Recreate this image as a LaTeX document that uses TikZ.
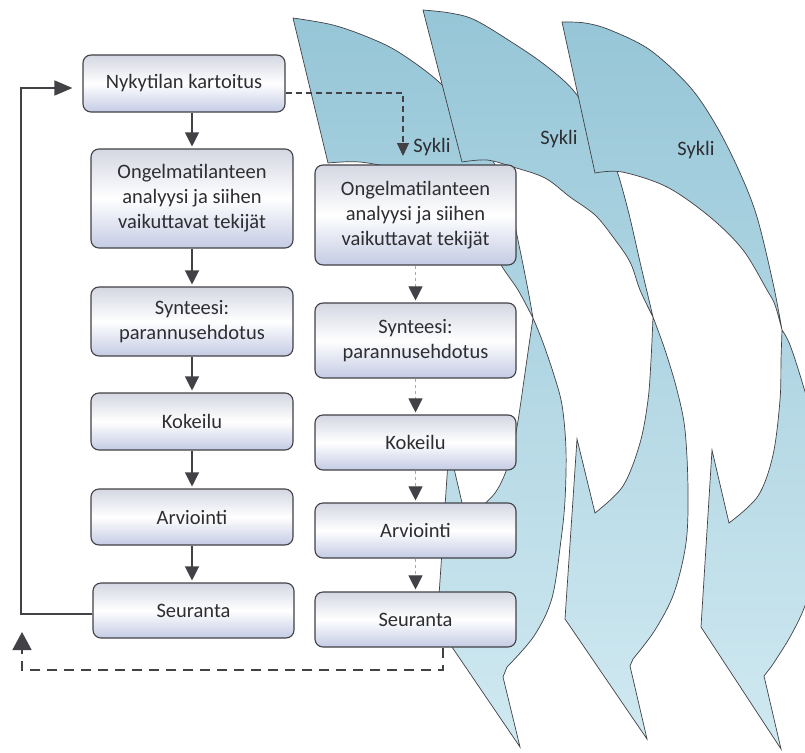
\documentclass[tikz,border=0pt]{standalone}
\usepackage{fontspec}
\setmainfont{Carlito}
\usetikzlibrary{arrows.meta}
\definecolor{boxT}{RGB}{212,215,226}
\definecolor{boxB}{RGB}{196,203,228}
\definecolor{lineC}{RGB}{65,65,70}
\definecolor{txtC}{RGB}{45,45,50}
\definecolor{swT}{RGB}{150,198,215}
\definecolor{swB}{RGB}{208,233,241}
\tikzset{
  procbox/.style={draw=lineC, line width=1.1pt, rounded corners=8pt,
    top color=boxT, bottom color=boxB, middle color=white,
    text=txtC, font=\fontsize{20.5}{25}\selectfont, align=center, inner sep=0pt},
  swoosh/.style={draw=lineC, line width=0.7pt, top color=swT, bottom color=swB},
  sm/.style={smooth,tension=0.55},
  solidarrow/.style={draw=lineC, line width=1.2pt, -{Triangle[length=14pt,width=14pt]}, shorten >=2pt},
  dasharrow/.style={draw=lineC!45, line width=0.8pt, dash pattern=on 3pt off 3pt, -{Triangle[length=14pt,width=14pt,color=lineC]}, shorten >=2pt},
  linkdash/.style={draw=lineC, line width=1.1pt, dash pattern=on 6pt off 4pt, -{Triangle[length=13pt,width=12pt]}},
  backdash/.style={draw=lineC, line width=1.6pt, dash pattern=on 10pt off 7pt, -{Triangle[length=18pt,width=19pt]}},
  backsolid/.style={draw=lineC, line width=1.4pt, -{Triangle[length=18pt,width=15pt]}, shorten >=10pt},
  syklilabel/.style={text=txtC, font=\fontsize{20.5}{24}\selectfont, inner sep=0pt},
}
\begin{document}
\begin{tikzpicture}[x=1pt,y=-1pt]
\useasboundingbox (0,0) rectangle (805,752);
\begin{scope}
\clip (0,0) rectangle (805,752);
\fill[white] (0,0) rectangle (805,752);
% cycle arrow 1
\path[swoosh]
  plot[sm] coordinates {(293,18) (333,25) (370,38) (400,53) (440,83) (470,120) (495,165) (510,205) (520,250) (528,290) (533,318)}
  -- plot[sm] coordinates {(533,318) (518,290) (500,263) (488,232) (468,205) (440,185) (400,170) (360,162) (328,163)}
  -- cycle
  plot[sm] coordinates {(533,318) (542,340) (553,372) (562,405) (566,450) (565,500) (561,540) (552,598) (534,636) (507,667)}
  -- (503,677) -- (520,747) -- (437,625) -- (449,447) -- (466,520)
  -- plot[sm] coordinates {(466,520) (495,493) (510,460) (517,427) (524,380) (529,345) (533,318)}
  -- cycle;
% cycle arrow 2
\path[swoosh]
  plot[sm] coordinates {(423,10) (450,13) (475,20) (513,43) (545,65) (573,90) (598,127) (615,165) (628,210) (640,262) (653,317)}
  -- plot[sm] coordinates {(653,317) (640,290) (630,262) (613,237) (595,215) (570,197) (545,178) (513,167) (487,160) (462,162)}
  -- cycle
  plot[sm] coordinates {(653,317) (665,350) (677,390) (685,430) (688,490) (686,543) (674,593) (655,630) (633,659)}
  -- (630,666) -- (647,739) -- (565,619) -- (577,439) -- (595,513)
  -- plot[sm] coordinates {(595,513) (623,486) (640,443) (648,400) (651,360) (653,317)}
  -- cycle;
% cycle arrow 3
\path[swoosh]
  plot[sm] coordinates {(562,22) (585,23) (610,30) (650,50) (690,87) (717,127) (740,173) (757,217) (773,283) (782,330)}
  -- plot[sm] coordinates {(782,330) (775,305) (767,290) (743,250) (710,217) (667,187) (622,172) (595,173)}
  -- cycle
  plot[sm] coordinates {(782,330) (790,345) (803,385) (818,440) (822,500) (819,553) (806,603) (790,637) (771,667)}
  -- (764,676) -- (781,749) -- (701,627) -- (712,450) -- (729,523)
  -- plot[sm] coordinates {(729,523) (758,496) (773,455) (780,400) (781,360) (782,330)}
  -- cycle;
\end{scope}

% left column
\node[procbox, minimum width=202pt, minimum height=57pt] (n1) at (184,83.5) {Nykytilan kartoitus};
\node[procbox, minimum width=202pt, minimum height=99pt] (l2) at (192,198.5) {Ongelmatilanteen\\analyysi ja siihen\\vaikuttavat tekijät};
\node[procbox, minimum width=202pt, minimum height=69pt] (l3) at (192,321.5) {Synteesi:\\parannusehdotus};
\node[procbox, minimum width=202pt, minimum height=57pt] (l4) at (192,421.5) {Kokeilu};
\node[procbox, minimum width=202pt, minimum height=56pt] (l5) at (192,517) {Arviointi};
\node[procbox, minimum width=201pt, minimum height=55pt] (l6) at (193.5,610.5) {Seuranta};

% right column
\node[procbox, minimum width=201pt, minimum height=100pt] (r2) at (415.5,215) {Ongelmatilanteen\\analyysi ja siihen\\vaikuttavat tekijät};
\node[procbox, minimum width=201pt, minimum height=75pt] (r3) at (415.5,340.5) {Synteesi:\\parannusehdotus};
\node[procbox, minimum width=201pt, minimum height=55pt] (r4) at (415.5,442.5) {Kokeilu};
\node[procbox, minimum width=201pt, minimum height=55pt] (r5) at (415.5,530.5) {Arviointi};
\node[procbox, minimum width=201pt, minimum height=55pt] (r6) at (415.5,619.5) {Seuranta};

% labels
\node[syklilabel] (sy1) at (432,147) {Sykli};
\node[syklilabel] (sy2) at (559,139) {Sykli};
\node[syklilabel] (sy3) at (696,150) {Sykli};

% left arrows
\draw[solidarrow] (n1.south -| l2.north) -- (l2.north);
\draw[solidarrow] (l2.south) -- (l3.north);
\draw[solidarrow] (l3.south) -- (l4.north);
\draw[solidarrow] (l4.south) -- (l5.north);
\draw[solidarrow] (l5.south) -- (l6.north -| l5.south);

% right arrows
\draw[dasharrow] (r2.south) -- (r3.north);
\draw[dasharrow] (r3.south) -- (r4.north);
\draw[dasharrow] (r4.south) -- (r5.north);
\draw[dasharrow] (r5.south) -- (r6.north);

% link from first step to the cycle
\coordinate (k1) at (403,93);
\coordinate (k2) at (403,156);
\draw[linkdash] (n1.east |- k1) -- (k1) -- (k2);

% bottom dashed return
\coordinate (d1) at (443,670);
\coordinate (d2) at (22,670);
\coordinate (d3) at (22,632);
\draw[backdash] (r6.south -| d1) -- (d1) -- (d2) -- (d3);

% left solid feedback
\coordinate (f1) at (21,614);
\coordinate (f2) at (21,88);
\draw[backsolid] (l6.west |- f1) -- (f1) -- (f2) -- (n1.west |- f2);
\end{tikzpicture}
\end{document}
